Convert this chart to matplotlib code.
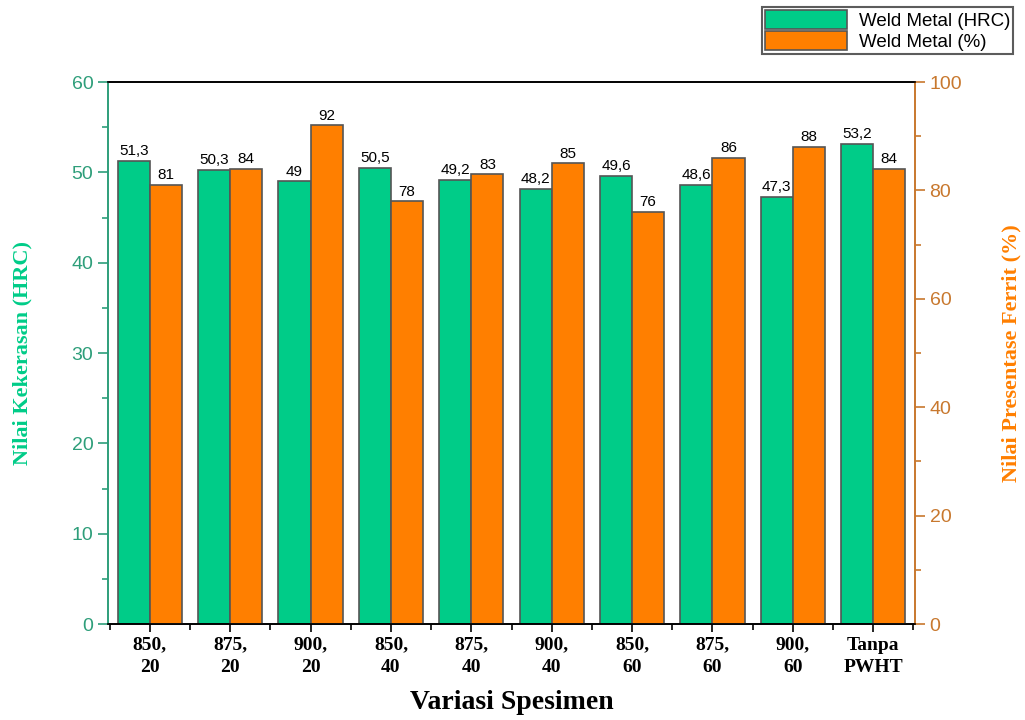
import matplotlib.pyplot as plt
import numpy as np
from matplotlib.ticker import MultipleLocator, AutoMinorLocator

# Specimen variations (temperature, holding time)
categories = ["850,\n20", "875,\n20", "900,\n20", "850,\n40", "875,\n40",
              "900,\n40", "850,\n60", "875,\n60", "900,\n60", "Tanpa\nPWHT"]
hardness = [51.3, 50.3, 49, 50.5, 49.2, 48.2, 49.6, 48.6, 47.3, 53.2]
ferrite = [81, 84, 92, 78, 83, 85, 76, 86, 88, 84]

green = "#00CC88"
orange = "#FF7F00"
left_col = "#2E9E7A"
right_col = "#C8782E"

fig = plt.figure(figsize=(10.25, 7.2), dpi=100)
ax = fig.add_axes([0.1054, 0.1333, 0.7873, 0.7527])
ax2 = ax.twinx()

x = np.arange(len(categories))
w = 0.4
b1 = ax.bar(x - w/2, hardness, w, color=green, edgecolor="#555555", linewidth=1.2,
            label="Weld Metal (HRC)")
b2 = ax2.bar(x + w/2, ferrite, w, color=orange, edgecolor="#555555", linewidth=1.2,
             label="Weld Metal (%)")

fmt = lambda v: ("%g" % v).replace(".", ",")
for xi, v in zip(x, hardness):
    ax.text(xi - w/2, v + 0.3, fmt(v), ha="center", va="bottom", fontsize=11,
            family="Liberation Sans")
for xi, v in zip(x, ferrite):
    ax2.text(xi + w/2, v + 0.5, fmt(v), ha="center", va="bottom", fontsize=11,
             family="Liberation Sans")

ax.set_xlim(-0.52, 9.52)
ax.set_ylim(0, 60)
ax2.set_ylim(0, 100)
ax.set_xticks(x)
ax.set_xticklabels(categories, family="Liberation Serif", fontweight="bold",
                   fontsize=14, linespacing=1.45)
ax.xaxis.set_minor_locator(MultipleLocator(0.5))
ax.tick_params(axis="x", which="major", length=6, width=1.2, pad=3)
ax.tick_params(axis="x", which="minor", length=4, width=1.2)

ax.yaxis.set_major_locator(MultipleLocator(10))
ax.yaxis.set_minor_locator(AutoMinorLocator(2))
ax2.yaxis.set_major_locator(MultipleLocator(20))
ax2.yaxis.set_minor_locator(AutoMinorLocator(2))

ax.tick_params(axis="y", which="both", colors=left_col, width=1.2, labelsize=14)
ax.tick_params(axis="y", which="major", length=7)
ax.tick_params(axis="y", which="minor", length=4)
ax2.tick_params(axis="y", which="both", colors=right_col, width=1.2, labelsize=14)
ax2.tick_params(axis="y", which="major", length=7)
ax2.tick_params(axis="y", which="minor", length=4)
for lbl in ax.get_yticklabels() + ax2.get_yticklabels():
    lbl.set_family("Liberation Sans")

for a in (ax, ax2):
    a.spines["left"].set_color(left_col)
    a.spines["right"].set_color(right_col)
    for s in a.spines.values():
        s.set_linewidth(1.2)

ax.set_ylabel("Nilai Kekerasan (HRC)", color=green, family="Liberation Serif",
              fontweight="bold", fontsize=16, labelpad=28)
ax2.set_ylabel("Nilai Presentase Ferrit (%)", color=orange, family="Liberation Serif",
               fontweight="bold", fontsize=16, labelpad=28)
ax.set_xlabel("Variasi Spesimen", family="Liberation Serif", fontweight="bold",
              fontsize=20, labelpad=10)

leg = fig.legend([b1, b2], ["Weld Metal (HRC)", "Weld Metal (%)"],
                 loc="upper right", bbox_to_anchor=(0.988, 0.99),
                 prop={"family": "Liberation Sans", "size": 13.5},
                 frameon=True, fancybox=False, edgecolor="#333333",
                 handlelength=4.4, handleheight=1.2, borderpad=0.15,
                 labelspacing=0.05, handletextpad=0.6, borderaxespad=0)
leg.get_frame().set_linewidth(1.5)

fig.savefig("out.png", dpi=100)
